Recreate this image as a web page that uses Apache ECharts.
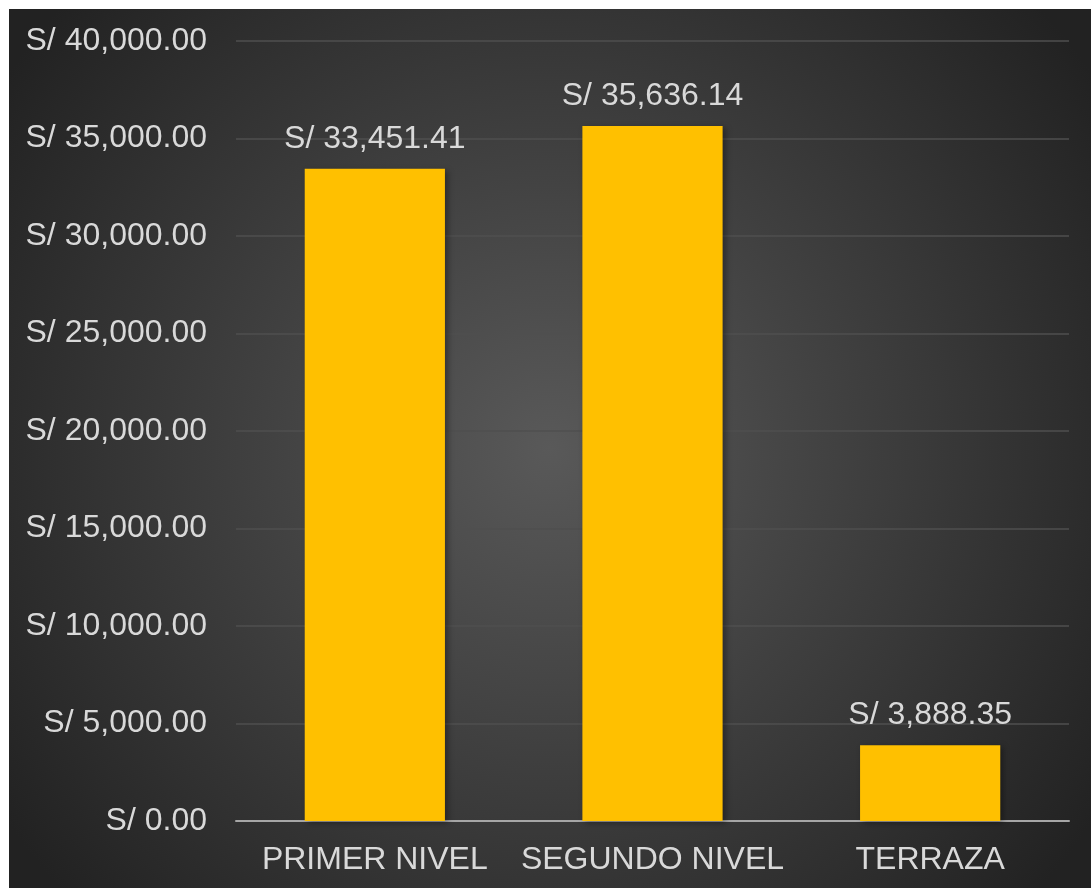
<!DOCTYPE html>
<html><head><meta charset="utf-8">
<script src="https://cdn.jsdelivr.net/npm/echarts@6/dist/echarts.min.js"></script>
<style>
html,body{margin:0;padding:0;background:#fff;width:1091px;height:888px;overflow:hidden}
#c{position:absolute;left:9px;top:9px;width:1082px;height:879px}
</style></head><body>
<div id="c"></div>
<script>
const categories = ['PRIMER NIVEL', 'SEGUNDO NIVEL', 'TERRAZA'];
const costs = [33451.41, 35636.14, 3888.35];
const yTicks = { min: 0, max: 40000, interval: 5000 };

function fmt(v) {
  return 'S/ ' + Number(v).toLocaleString('en-US', { minimumFractionDigits: 2, maximumFractionDigits: 2 });
}
const font = 'Liberation Sans, Arial, sans-serif';
const chart = echarts.init(document.getElementById('c'));
chart.setOption({
  backgroundColor: {
    type: 'radial', x: 0.5, y: 0.5, r: 0.75,
    colorStops: [{ offset: 0, color: '#595959' }, { offset: 1, color: '#222222' }]
  },
  animation: false,
  grid: { left: 227, top: 32, right: 22, bottom: 67, containLabel: false },
  xAxis: {
    type: 'category', data: categories,
    axisLine: { lineStyle: { color: '#a6a6a6', width: 2 } },
    axisTick: { show: false },
    axisLabel: { color: '#d9d9d9', fontSize: 32, fontFamily: font, margin: 23, interval: 0 }
  },
  yAxis: {
    type: 'value', min: yTicks.min, max: yTicks.max, interval: yTicks.interval,
    axisLine: { show: false }, axisTick: { show: false },
    splitLine: { lineStyle: { color: '#4f4f4f', width: 1.5 } },
    axisLabel: { color: '#d9d9d9', fontSize: 32, fontFamily: font, margin: 29, formatter: fmt }
  },
  series: [{
    type: 'bar', data: costs, barWidth: '50.5%',
    itemStyle: { color: '#FFC000', shadowColor: 'rgba(0,0,0,0.35)', shadowBlur: 6, shadowOffsetX: 3, shadowOffsetY: 2 },
    label: { show: true, position: 'top', distance: 14, color: '#d9d9d9', fontSize: 32, fontFamily: font,
      formatter: p => fmt(p.value) }
  }]
});
</script>
</body></html>
